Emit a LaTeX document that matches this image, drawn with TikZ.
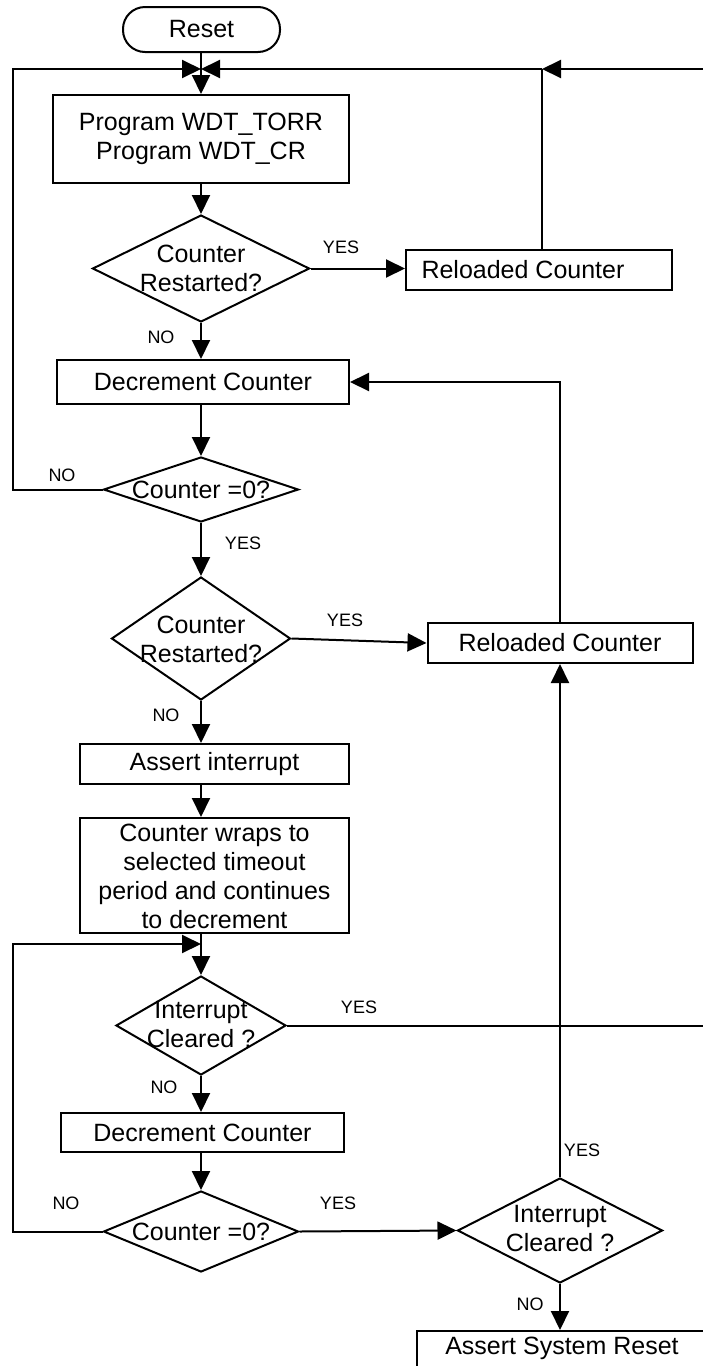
\documentclass[tikz,border=0pt]{standalone}
\usepackage{fontspec}
\setmainfont{Liberation Sans}
\usetikzlibrary{shapes.geometric,arrows.meta}
\tikzset{
  box/.style={draw, line width=2pt, rectangle, inner sep=0pt, font=\fontsize{25}{29}\selectfont, align=center},
  term/.style={box, rounded corners=22pt},
  dia/.style={draw, diamond, line width=2pt, inner sep=0pt},
  txt/.style={font=\fontsize{25}{29}\selectfont, align=center, inner sep=0pt},
  lbl/.style={font=\fontsize{18}{20}\selectfont, inner sep=0pt},
  arr/.style={-{Triangle[length=19pt,width=18pt]}, line width=2pt},
  ln/.style={line width=2pt}
}
\begin{document}
\begin{tikzpicture}[x=1pt,y=-1pt]
\useasboundingbox (0,0) rectangle (703,1366);
\clip (0,0) rectangle (703,1366);

% nodes
\node[term, minimum width=157pt, minimum height=45pt] (reset) at (201.5,29.5) {Reset};
\node[box, minimum width=296pt, minimum height=88pt] (prog) at (201,139) {Program WDT\_TORR\\Program WDT\_CR};
\node[dia, minimum width=217pt, minimum height=107pt] (d1) at (201,268.5) {};
\node[txt] (d1t) at (d1.center) {Counter\\Restarted?};
\node[box, minimum width=266pt, minimum height=40pt] (r1) at (539,270) {};
\node[txt] (r1t) at ([xshift=-16pt]r1.center) {Reloaded Counter};
\node[box, minimum width=292pt, minimum height=44pt] (dec1) at (203,382) {Decrement Counter};
\node[dia, minimum width=195pt, minimum height=65pt] (d2) at (201,489.5) {};
\node[txt] (d2t) at (d2.center) {Counter =0?};
\node[dia, minimum width=179pt, minimum height=123pt] (d3) at (201,638.5) {};
\node[txt] (d3t) at ([yshift=-1pt]d3.center) {Counter\\Restarted?};
\node[box, minimum width=265pt, minimum height=40pt] (r2) at (560,643) {Reloaded Counter};
\node[box, minimum width=269pt, minimum height=40pt] (ai) at (214.5,764) {Assert interrupt};
\node[box, minimum width=269pt, minimum height=115pt] (wr) at (214.5,875.5) {};
\node[txt] (wrt) at (214.5,876) {Counter wraps to\\selected timeout\\period and continues\\to decrement};
\node[dia, minimum width=170pt, minimum height=99pt] (d4) at (201,1025.5) {};
\node[txt] (d4t) at ([yshift=1pt]d4.center) {Interrupt\\Cleared ?};
\node[box, minimum width=283pt, minimum height=39pt] (dec2) at (202.5,1132.5) {Decrement Counter};
\node[dia, minimum width=195pt, minimum height=81pt] (d5) at (201,1231.5) {};
\node[txt] (d5t) at (d5.center) {Counter =0?};
\node[dia, minimum width=205pt, minimum height=105pt] (d6) at (560,1230.5) {};
\node[txt] (d6t) at ([yshift=2pt]d6.center) {Interrupt\\Cleared ?};
\node[box, minimum width=323pt, minimum height=69pt] (asr) at (578.5,1365.5) {};
\node[txt] (asrt) at (562,1348) {Assert System Reset};

% labels
\node[lbl] (y1) at (341,247) {YES};
\node[lbl] (n1) at (161,337) {NO};
\node[lbl] (n2) at (62,475) {NO};
\node[lbl] (y2) at (243,543) {YES};
\node[lbl] (y3) at (345,620) {YES};
\node[lbl] (n3) at (166,715) {NO};
\node[lbl] (y4) at (359,1007) {YES};
\node[lbl] (n4) at (164,1087) {NO};
\node[lbl] (n5) at (66,1203) {NO};
\node[lbl] (y5) at (338,1203) {YES};
\node[lbl] (y6) at (582,1150) {YES};
\node[lbl] (n6) at (530,1304) {NO};

% junction coordinates
\coordinate (j1) at (201,69);
\coordinate (j2) at (542,69);
\coordinate (e1) at (712,69);
\coordinate (lt) at (12.6,69);
\coordinate (j3) at (201,944);
\coordinate (e2) at (712,1026);

% connectors
\draw[arr] (reset.south -| j1) -- (prog.north -| j1);
\draw[arr] (d2.west) -- (d2.west -| lt) -- (lt) -- (j1);
\draw[arr] (e1) -- (j2);
\draw[arr] (j2) -- (j1);
\draw[ln] (r1.north -| j2) -- (j2);
\draw[arr] (prog.south -| j1) -- (d1.north);
\draw[arr] (d1.east) -- (d1.east -| r1.west);
\draw[arr] (d1.south) -- (d1.south |- dec1.north);
\draw[arr] (dec1.south -| d2.north) -- (d2.north);
\draw[arr] (d2.south) -- (d3.north);
\draw[arr] (d3.east) -- (r2.west);
\draw[arr] (r2.north) |- (dec1.east);
\draw[arr] (d3.south) -- (d3.south |- ai.north);
\draw[arr] (ai.south -| j1) -- (wr.north -| j1);
\draw[arr] (wr.south -| j1) -- (d4.north);
\draw[arr] (d5.west) -- (d5.west -| lt) -- (lt |- j3) -- (j3);
\draw[ln] (d4.east) -- (d4.east -| e2);
\draw[arr] (d4.south) -- (d4.south |- dec2.north);
\draw[arr] (dec2.south -| d5.north) -- (d5.north);
\draw[arr] (d5.east) -- (d6.west);
\draw[arr] (d6.north) -- (d6.north |- r2.south);
\draw[arr] (d6.south) -- (d6.south |- asr.north);
\end{tikzpicture}
\end{document}
